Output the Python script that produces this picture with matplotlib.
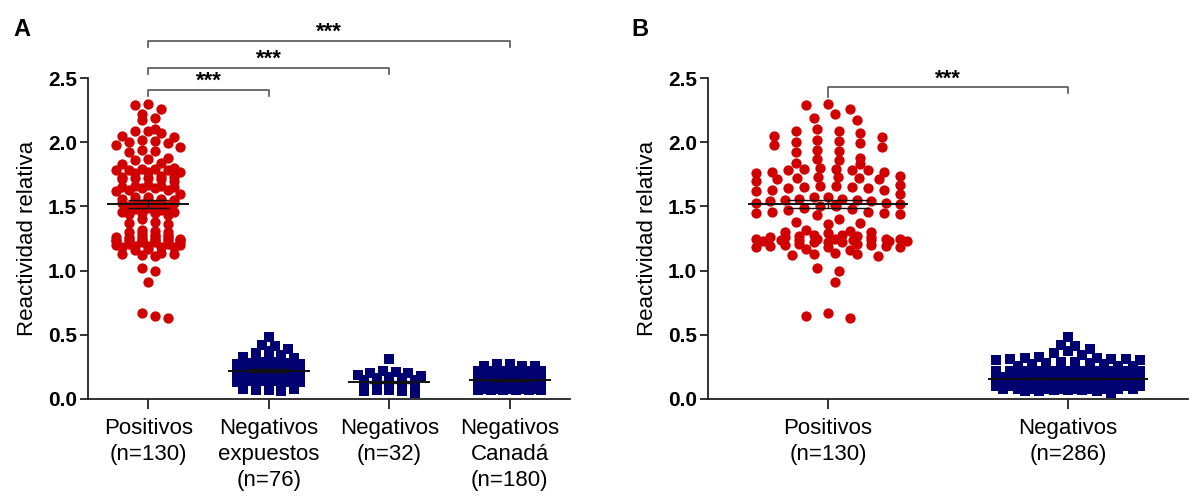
import numpy as np
import matplotlib.pyplot as plt

plt.rcParams['font.family'] = ['Liberation Sans', 'DejaVu Sans']

# relative reactivity values
positivos = [
    2.30, 2.29, 2.26, 2.22, 2.19, 2.17,
    2.10, 2.09, 2.09, 2.07, 2.05, 2.04,
    2.02, 2.01, 2.00, 1.99, 1.98, 1.96,
    1.94, 1.93, 1.92, 1.88, 1.87, 1.86, 1.84, 1.83,
    1.80, 1.79, 1.79, 1.78, 1.78, 1.78, 1.77, 1.77, 1.76,
    1.74, 1.73, 1.73, 1.72, 1.72, 1.71, 1.71, 1.70,
    1.67, 1.66, 1.66, 1.65, 1.65, 1.64, 1.64, 1.63, 1.63, 1.62,
    1.60,
    1.57, 1.57, 1.56, 1.56, 1.55, 1.55, 1.54, 1.54, 1.53, 1.53, 1.52,
    1.51, 1.50, 1.50, 1.49, 1.48,
    1.47, 1.46, 1.46, 1.45, 1.45, 1.44, 1.43,
    1.40, 1.38, 1.37, 1.36,
    1.32, 1.31, 1.30, 1.30, 1.29, 1.28, 1.28, 1.27, 1.27, 1.26, 1.26,
    1.26, 1.25, 1.25, 1.25, 1.25, 1.25, 1.24, 1.24, 1.24, 1.24, 1.23,
    1.23, 1.23, 1.22, 1.22, 1.22, 1.21, 1.21, 1.20, 1.20,
    1.19, 1.19, 1.18, 1.18, 1.18, 1.17, 1.16,
    1.14, 1.13, 1.13, 1.12, 1.11,
    1.02, 1.00, 0.91,
    0.67, 0.65, 0.63,
]

neg_expuestos = [
    0.48, 0.42, 0.41, 0.39, 0.37, 0.36, 0.34, 0.33, 0.32, 0.32, 0.31, 0.31,
    0.30, 0.30, 0.29, 0.29, 0.28, 0.28, 0.27, 0.27, 0.26, 0.26, 0.25, 0.25,
    0.25, 0.24, 0.24, 0.23, 0.23, 0.23, 0.22, 0.22, 0.22, 0.21, 0.21, 0.20,
    0.20, 0.20, 0.19, 0.19, 0.18, 0.18, 0.18, 0.17, 0.17, 0.17, 0.16, 0.16,
    0.16, 0.15, 0.15, 0.15, 0.14, 0.14, 0.14, 0.13, 0.13, 0.13, 0.12, 0.12,
    0.12, 0.11, 0.11, 0.11, 0.10, 0.10, 0.10, 0.09, 0.09, 0.09, 0.08, 0.08,
    0.08, 0.07, 0.07, 0.06,
]

neg_32 = [
    0.31, 0.22, 0.21, 0.20, 0.20, 0.19, 0.18, 0.17, 0.16, 0.16, 0.15, 0.15,
    0.14, 0.14, 0.13, 0.13, 0.12, 0.12, 0.11, 0.11, 0.10, 0.10, 0.10, 0.09,
    0.09, 0.08, 0.08, 0.07, 0.07, 0.06, 0.06, 0.05,
]

# Canadá group is a solid block: value levels and how many squares sit at each
canada_levels = [0.07, 0.08, 0.09, 0.10, 0.11, 0.12, 0.13, 0.14, 0.15, 0.16, 0.17,
                 0.18, 0.19, 0.20, 0.21, 0.22, 0.23, 0.24, 0.25, 0.26, 0.27]
canada_counts = [6, 10, 11, 12, 12, 12, 12, 12, 10, 10, 10,
                 10, 9, 9, 8, 7, 6, 5, 4, 3, 2]
neg_canada = np.repeat(canada_levels, canada_counts)

# panel B pools the negatives (n=286)
neg_todos = np.concatenate([neg_expuestos, neg_32, neg_canada])[:286]

labels_a = ['Positivos\n(n=130)', 'Negativos\nexpuestos\n(n=76)',
            'Negativos\n(n=32)', 'Negativos\nCanadá\n(n=180)']
labels_b = ['Positivos\n(n=130)', 'Negativos\n(n=286)']

mean_a = [1.52, 0.22, 0.13, 0.145]
sem_a = [0.03, 0.01, 0.008, 0.005]
mean_b = [1.52, 0.157]
sem_b = [0.03, 0.005]

RED = '#D00000'
NAVY = '#000070'
DARK = '#222222'


def group_rows(vals, row_h, greedy):
    order = np.argsort(-vals, kind='stable')
    if not greedy:
        bins = np.floor(vals[order] / row_h).astype(int)
        return [order[bins == b] for b in np.unique(bins)[::-1]]
    rows, current, start = [], [order[0]], vals[order[0]]
    for j in order[1:]:
        if start - vals[j] <= row_h:
            current.append(j)
        else:
            rows.append(np.array(current))
            current, start = [j], vals[j]
    rows.append(np.array(current))
    return rows


def swarm_x(values, center, dx, max_cols, row_h, greedy=False, loosen=1.0):
    """GraphPad-like scatter: points grouped in horizontal rows, each row
    spread symmetrically about the column centre, wrapping when too wide.
    Short rows may be spread a little looser (loosen > 1)."""
    vals = np.asarray(values, float)
    xs = np.zeros(len(vals))
    for r, row in enumerate(group_rows(vals, row_h, greedy)):
        if greedy:
            chunks = [row[c:c + max_cols] for c in range(0, len(row), max_cols)]
        else:
            chunks = np.array_split(row, int(np.ceil(len(row) / max_cols)))
        for chunk in chunks:
            m = len(chunk)
            step = dx
            if m > 1:
                step = dx * max(1.0, min(loosen, (max_cols - 1) / (m - 1)))
            pos = (np.arange(m) - (m - 1) / 2) * step
            if m < max_cols - 1 and m % 2 == 1 and r % 2 == 1:
                pos = pos + 0.5 * dx
            pos = pos[np.argsort(np.abs(pos), kind='stable')]
            xs[chunk] = center + pos
    return xs


def mean_sem(ax, x, m, s, half_mean=0.34, half_sem=0.17):
    ax.hlines(m, x - half_mean, x + half_mean, color='#111111', lw=1.4, zorder=5)
    ax.hlines([m - s, m + s], x - half_sem, x + half_sem, color='#111111', lw=1.0, zorder=5)
    ax.vlines(x, m - s, m + s, color='#111111', lw=1.0, zorder=5)


def bracket(ax, x0, x1, y, drop0=0.05, drop1=0.05):
    ax.plot([x0, x0, x1, x1], [y - drop0, y, y, y - drop1], color='#555555',
            lw=1.2, clip_on=False)
    ax.text((x0 + x1) / 2, y + 0.02, '***', ha='center', va='baseline',
            fontsize=16, fontweight='bold', clip_on=False)


def style(ax, labels):
    n = len(labels)
    ax.set_xlim(-0.5, n - 0.5)
    ax.set_ylim(0, 2.5)
    ax.spines[['top', 'right']].set_visible(False)
    for side in ['left', 'bottom']:
        ax.spines[side].set_linewidth(1.3)
        ax.spines[side].set_color(DARK)
    ax.set_yticks([0, 0.5, 1.0, 1.5, 2.0, 2.5])
    ax.set_yticklabels(['0.0', '0.5', '1.0', '1.5', '2.0', '2.5'],
                       fontweight='bold')
    ax.set_xticks(range(n), labels, linespacing=1.3)
    ax.tick_params(axis='y', length=6, width=1.3, color=DARK, labelsize=15, pad=2)
    ax.tick_params(axis='x', length=7, width=1.3, color=DARK, labelsize=16, pad=7)
    ax.set_ylabel('Reactividad relativa', fontsize=16, labelpad=7)


fig = plt.figure(figsize=(11.93, 5), dpi=100)
ax_a = fig.add_axes([88 / 1193, 1 - 399 / 500, (570 - 88) / 1193, (399 - 78) / 500])
ax_b = fig.add_axes([708 / 1193, 1 - 399 / 500, (1188 - 708) / 1193, (399 - 78) / 500])

# panel A
groups_a = [positivos, neg_expuestos, neg_32, neg_canada]
for i, vals in enumerate(groups_a):
    if i == 0:
        xs = swarm_x(vals, i, 0.107, 6, 0.075)
        ax_a.scatter(xs, vals, s=55, marker='o', color=RED, lw=0, clip_on=False, zorder=3)
    else:
        xs = swarm_x(vals, i, 0.105, 6, 0.075)
        ax_a.scatter(xs, vals, s=50, marker='s', color=NAVY, lw=0, clip_on=False, zorder=3)
    mean_sem(ax_a, i, mean_a[i], sem_a[i])
style(ax_a, labels_a)
bracket(ax_a, 0, 1, 2.41)
bracket(ax_a, 0, 2, 2.58)
bracket(ax_a, 0, 3, 2.79)

# panel B
xs = swarm_x(positivos, 0, 0.06, 11, 0.065, greedy=True, loosen=1.5)
ax_b.scatter(xs, positivos, s=55, marker='o', color=RED, lw=0, clip_on=False, zorder=3)
xs = swarm_x(neg_todos, 1, 0.06, 11, 0.075)
ax_b.scatter(xs, neg_todos, s=50, marker='s', color=NAVY, lw=0, clip_on=False, zorder=3)
for i in range(2):
    mean_sem(ax_b, i, mean_b[i], sem_b[i], half_mean=0.335)
style(ax_b, labels_b)
bracket(ax_b, 0, 1, 2.43, drop0=0.075, drop1=0.045)

fig.text(22 / 1193, 1 - 29 / 500, 'A', fontsize=17, fontweight='bold', ha='center', va='center')
fig.text(640 / 1193, 1 - 29 / 500, 'B', fontsize=17, fontweight='bold', ha='center', va='center')

fig.savefig('out.png', dpi=100)
